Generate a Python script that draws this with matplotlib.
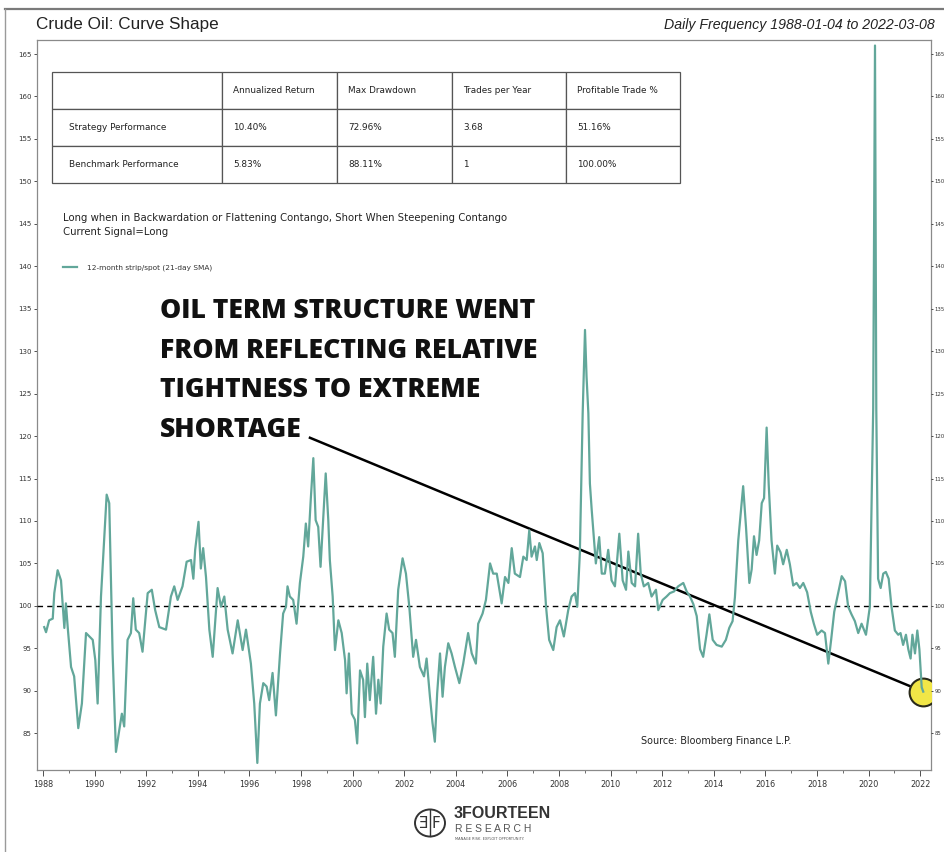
import matplotlib

matplotlib.use("Agg")
import matplotlib.pyplot as plt
from matplotlib.lines import Line2D
from matplotlib.patches import Circle

LINE_COLOR = "#62a79a"
SPINE_COLOR = "#8a8a8a"
TEXT_COLOR = "#333333"
NARROW = ["Liberation Sans Narrow", "Liberation Sans", "DejaVu Sans"]

# 12-month strip / spot ratio (21-day SMA)
YEARS = [
    1988.05, 1988.12, 1988.24, 1988.38, 1988.44, 1988.57, 1988.70, 1988.83, 1988.89, 1988.96,
    1989.09, 1989.21, 1989.37, 1989.51, 1989.67, 1989.80, 1989.93, 1990.03, 1990.12, 1990.25,
    1990.38, 1990.47, 1990.57, 1990.70, 1990.83, 1990.96, 1991.06, 1991.15, 1991.28, 1991.41,
    1991.50, 1991.60, 1991.73, 1991.86, 1992.06, 1992.22, 1992.35, 1992.51, 1992.77, 1992.96,
    1993.09, 1993.22, 1993.41, 1993.57, 1993.74, 1993.83, 1993.90, 1994.03, 1994.12, 1994.21,
    1994.32, 1994.45, 1994.58, 1994.77, 1994.90, 1995.03, 1995.16, 1995.35, 1995.55, 1995.74,
    1995.87, 1996.06, 1996.19, 1996.31, 1996.41, 1996.54, 1996.67, 1996.77, 1996.90, 1997.03,
    1997.19, 1997.31, 1997.42, 1997.48, 1997.57, 1997.70, 1997.83, 1997.96, 1998.09, 1998.19,
    1998.28, 1998.38, 1998.48, 1998.57, 1998.67, 1998.76, 1998.86, 1998.96, 1999.06, 1999.12,
    1999.23, 1999.32, 1999.45, 1999.58, 1999.71, 1999.77, 1999.86, 1999.97, 2000.09, 2000.18,
    2000.29, 2000.41, 2000.48, 2000.57, 2000.67, 2000.80, 2000.91, 2001.00, 2001.09, 2001.19,
    2001.32, 2001.42, 2001.55, 2001.64, 2001.77, 2001.94, 2002.07, 2002.20, 2002.35, 2002.46,
    2002.61, 2002.77, 2002.87, 2003.00, 2003.10, 2003.19, 2003.28, 2003.39, 2003.49, 2003.58,
    2003.71, 2003.84, 2003.97, 2004.14, 2004.29, 2004.48, 2004.62, 2004.78, 2004.87, 2005.04,
    2005.17, 2005.33, 2005.45, 2005.59, 2005.78, 2005.91, 2006.04, 2006.17, 2006.29, 2006.49,
    2006.62, 2006.75, 2006.85, 2006.94, 2007.07, 2007.14, 2007.24, 2007.37, 2007.50, 2007.62,
    2007.78, 2007.91, 2008.04, 2008.19, 2008.36, 2008.49, 2008.62, 2008.71, 2008.81, 2008.92,
    2009.01, 2009.07, 2009.14, 2009.20, 2009.27, 2009.33, 2009.43, 2009.56, 2009.66, 2009.78,
    2009.91, 2010.04, 2010.17, 2010.34, 2010.47, 2010.60, 2010.69, 2010.82, 2010.95, 2011.07,
    2011.17, 2011.29, 2011.46, 2011.59, 2011.76, 2011.85, 2012.02, 2012.17, 2012.30, 2012.46,
    2012.62, 2012.82, 2012.95, 2013.08, 2013.21, 2013.34, 2013.47, 2013.59, 2013.72, 2013.83,
    2013.96, 2014.11, 2014.31, 2014.47, 2014.60, 2014.73, 2014.82, 2014.95, 2015.08, 2015.14,
    2015.25, 2015.38, 2015.47, 2015.56, 2015.66, 2015.76, 2015.86, 2015.95, 2016.05, 2016.13,
    2016.24, 2016.37, 2016.46, 2016.59, 2016.69, 2016.83, 2016.95, 2017.08, 2017.21, 2017.34,
    2017.47, 2017.62, 2017.76, 2017.88, 2018.01, 2018.18, 2018.31, 2018.44, 2018.55, 2018.67,
    2018.83, 2018.96, 2019.09, 2019.21, 2019.34, 2019.47, 2019.60, 2019.73, 2019.90, 2020.05,
    2020.18, 2020.25, 2020.30, 2020.37, 2020.47, 2020.57, 2020.67, 2020.78, 2020.89, 2021.02,
    2021.15, 2021.24, 2021.34, 2021.45, 2021.54, 2021.63, 2021.70, 2021.80, 2021.89, 2021.97,
    2022.06, 2022.12,
]
RATIO = [
    97.5, 96.9, 98.3, 98.5, 101.5, 104.2, 103.0, 97.4, 100.3, 97.5,
    92.8, 91.7, 85.6, 88.5, 96.8, 96.4, 96.0, 93.6, 88.5, 101.1,
    108.1, 113.1, 112.1, 94.4, 82.8, 85.4, 87.3, 85.8, 96.0, 96.8,
    100.9, 97.2, 96.8, 94.6, 101.5, 101.9, 99.5, 97.5, 97.2, 101.1,
    102.3, 100.7, 102.3, 105.2, 105.4, 103.2, 106.6, 109.9, 104.4, 106.8,
    103.4, 97.2, 94.0, 102.1, 99.9, 101.1, 97.2, 94.4, 98.3, 94.8,
    97.2, 93.2, 88.5, 81.5, 88.5, 90.9, 90.5, 88.9, 92.1, 87.1,
    94.4, 99.1, 99.9, 102.3, 101.1, 100.7, 97.9, 102.7, 105.8, 109.7,
    107.0, 112.5, 117.4, 110.1, 109.3, 104.6, 110.1, 115.6, 110.1, 105.4,
    101.1, 94.8, 98.3, 96.8, 93.6, 89.7, 94.4, 87.3, 86.6, 83.8,
    92.4, 91.3, 86.9, 93.2, 88.9, 94.0, 87.3, 91.3, 88.5, 95.2,
    99.1, 97.2, 96.8, 94.0, 101.9, 105.6, 103.8, 99.9, 94.0, 96.0,
    92.8, 91.7, 93.8, 89.3, 86.2, 84.0, 89.7, 94.4, 89.3, 92.8,
    95.6, 94.4, 92.8, 90.9, 93.2, 96.8, 94.4, 93.2, 97.9, 99.1,
    100.7, 105.0, 103.8, 103.8, 100.3, 103.4, 102.7, 106.8, 103.8, 103.4,
    105.8, 105.4, 108.9, 105.8, 107.0, 105.4, 107.4, 106.2, 99.9, 96.0,
    94.8, 97.5, 98.3, 96.4, 99.5, 101.1, 101.5, 99.9, 106.2, 122.7,
    132.5, 127.0, 122.7, 114.4, 111.3, 108.9, 105.0, 108.1, 103.8, 103.8,
    106.6, 103.0, 102.3, 108.5, 103.0, 101.9, 106.4, 102.7, 102.3, 108.5,
    103.8, 102.3, 102.7, 101.1, 101.9, 99.5, 100.7, 101.1, 101.5, 101.7,
    102.3, 102.7, 101.7, 101.1, 100.2, 98.8, 94.9, 94.0, 96.6, 99.0,
    96.0, 95.4, 95.2, 96.0, 97.4, 98.2, 101.0, 107.7, 112.1, 114.1,
    109.3, 102.7, 104.3, 108.2, 106.0, 107.7, 112.1, 112.7, 121.0, 114.3,
    107.7, 103.8, 107.1, 106.3, 104.9, 106.6, 104.9, 102.4, 102.7, 102.1,
    102.7, 101.6, 99.3, 97.9, 96.6, 97.1, 96.8, 93.2, 96.0, 99.3,
    101.6, 103.5, 102.9, 99.9, 99.0, 98.2, 96.8, 97.9, 96.6, 99.9,
    123.2, 166.0, 123.2, 103.2, 102.1, 103.8, 104.0, 103.2, 99.9, 97.1,
    96.6, 96.8, 95.4, 96.6, 94.9, 93.8, 96.6, 94.4, 97.1, 94.9,
    90.4, 89.9,
]

TABLE_HEADER = ["", "Annualized Return", "Max Drawdown", "Trades per Year", "Profitable Trade %"]
TABLE_ROWS = [
    ["Strategy Performance", "10.40%", "72.96%", "3.68", "51.16%"],
    ["Benchmark Performance", "5.83%", "88.11%", "1", "100.00%"],
]

Y_TICKS = list(range(85, 170, 5))
X_MAJOR = list(range(1988, 2023, 2))
X_MINOR = list(range(1988, 2023))

ANNOTATION_START = (1998.35, 119.8)

W, H = 945, 852
fig = plt.figure(figsize=(W / 100, H / 100), dpi=100)
fig.patch.set_facecolor("white")


def fx(px):
    return px / W


def fy(py):
    return 1 - py / H


AX_L, AX_R, AX_T, AX_B = 37, 931.5, 40, 770
ax = fig.add_axes([fx(AX_L), fy(AX_B), fx(AX_R) - fx(AX_L), fy(AX_T) - fy(AX_B)])


def axx(px):
    return (px - AX_L) / (AX_R - AX_L)


def axy(py):
    return (AX_B - py) / (AX_B - AX_T)


ax.plot(YEARS, RATIO, color=LINE_COLOR, linewidth=1.6, zorder=7,
        label="12-month strip/spot (21-day SMA)")
ax.axhline(100, color="black", linestyle=(0, (4, 3)), linewidth=1.0, zorder=3)

# annotation line into the highlighted last reading
ax.plot([ANNOTATION_START[0], YEARS[-1]], [ANNOTATION_START[1], RATIO[-1]],
        color="black", linewidth=1.8, zorder=4)
ax.plot(YEARS[-1], RATIO[-1], "o", markersize=20, markerfacecolor="#f1e647",
        markeredgecolor="#2a2a1a", markeredgewidth=1.5, zorder=6)

ax.set_xlim(1987.77, 2022.44)
ax.set_ylim(80.67, 166.65)
ax.set_yticks(Y_TICKS)
ax.set_xticks(X_MAJOR)
ax.set_xticks(X_MINOR, minor=True)
ax.tick_params(axis="y", which="both", direction="out", length=2.5, width=0.6,
               colors=TEXT_COLOR, labelsize=5, left=True, right=True, pad=1.5)
ax.tick_params(axis="x", which="major", direction="out", length=4, width=0.6,
               colors=TEXT_COLOR, labelsize=5.8, pad=3)
ax.tick_params(axis="x", which="minor", direction="out", length=2, width=0.5, colors=TEXT_COLOR)
for spine in ax.spines.values():
    spine.set_edgecolor(SPINE_COLOR)
    spine.set_linewidth(0.9)

# right-hand labels, squeezed into the narrow margin
ax_r = ax.twinx()
ax_r.set_ylim(ax.get_ylim())
ax_r.set_yticks(Y_TICKS)
ax_r.tick_params(axis="y", direction="out", length=1.5, width=0.6, colors=TEXT_COLOR,
                 labelsize=3.9, pad=0.6)
for spine in ax_r.spines.values():
    spine.set_visible(False)

# performance table
col_px = [170, 115, 115, 114, 114]
table = ax.table(
    cellText=[TABLE_HEADER] + TABLE_ROWS,
    cellLoc="left",
    colWidths=[c / sum(col_px) for c in col_px],
    bbox=[axx(52), axy(183), axx(680) - axx(52), axy(72) - axy(183)],
    zorder=8,
)
table.auto_set_font_size(False)
table.set_fontsize(6.4)
for cell in table.get_celld().values():
    cell.set_edgecolor("#555555")
    cell.set_linewidth(0.9)
    cell.set_facecolor("white")
    cell.get_text().set_color("#222222")

ax.text(axx(63), axy(225),
        "Long when in Backwardation or Flattening Contango, Short When Steepening Contango\n"
        "Current Signal=Long",
        transform=ax.transAxes, fontsize=7.3, color="#222222", va="center", linespacing=1.45)

leg = ax.legend(loc="upper left", bbox_to_anchor=(axx(59), axy(261)),
                frameon=False, fontsize=5.3, handlelength=2.0, handletextpad=1.3, borderpad=0)
for t in leg.get_texts():
    t.set_color("#333333")

ax.text(axx(641), axy(741), "Source: Bloomberg Finance L.P.",
        transform=ax.transAxes, fontsize=6.9, color="#222222", va="center")

fig.text(fx(160), fy(298),
         "OIL TERM STRUCTURE WENT\nFROM REFLECTING RELATIVE\nTIGHTNESS TO EXTREME\nSHORTAGE",
         family=["Open Sans", "DejaVu Sans"], fontweight="heavy", fontsize=19.2,
         color="#111111", va="top", ha="left", linespacing=1.68)

# header
fig.text(fx(36), fy(24), "Crude Oil: Curve Shape", family=NARROW, fontsize=12.3,
         color="#222222", va="center", ha="left")
fig.text(fx(935), fy(25), "Daily Frequency 1988-01-04 to 2022-03-08", family=NARROW,
         style="italic", fontsize=10.2, color="#222222", va="center", ha="right")

# screenshot frame
fig.add_artist(Line2D([fx(5), 1], [fy(9), fy(9)], color="#7a7a7a", linewidth=1.6))
fig.add_artist(Line2D([fx(5), fx(5)], [fy(9), 0], color="#9a9a9a", linewidth=1.0))

# logo
fig.add_artist(Circle((fx(430), fy(823)), 15 / W, transform=fig.transFigure,
                      facecolor="white", edgecolor="#333333", linewidth=1.4))
fig.add_artist(Line2D([fx(430), fx(430)], [fy(810), fy(836)], color="#333333", linewidth=1.0))
fig.text(fx(428), fy(823), "Ǝ", fontsize=11, color="#333333", ha="right", va="center")
fig.text(fx(432), fy(823), "F", fontsize=11, color="#333333", ha="left", va="center")
fig.text(fx(454), fy(814), "3FOURTEEN", family=NARROW, fontweight="bold", fontsize=11.5,
         color="#333333", ha="left", va="center")
fig.text(fx(455), fy(829), "R E S E A R C H", family=NARROW, fontsize=7.5,
         color="#555555", ha="left", va="center")
fig.text(fx(455), fy(839), "MANAGE RISK. EXPLOIT OPPORTUNITY.", fontsize=2.6,
         color="#555555", ha="left", va="center")

fig.savefig("out.png", dpi=100, facecolor="white")
